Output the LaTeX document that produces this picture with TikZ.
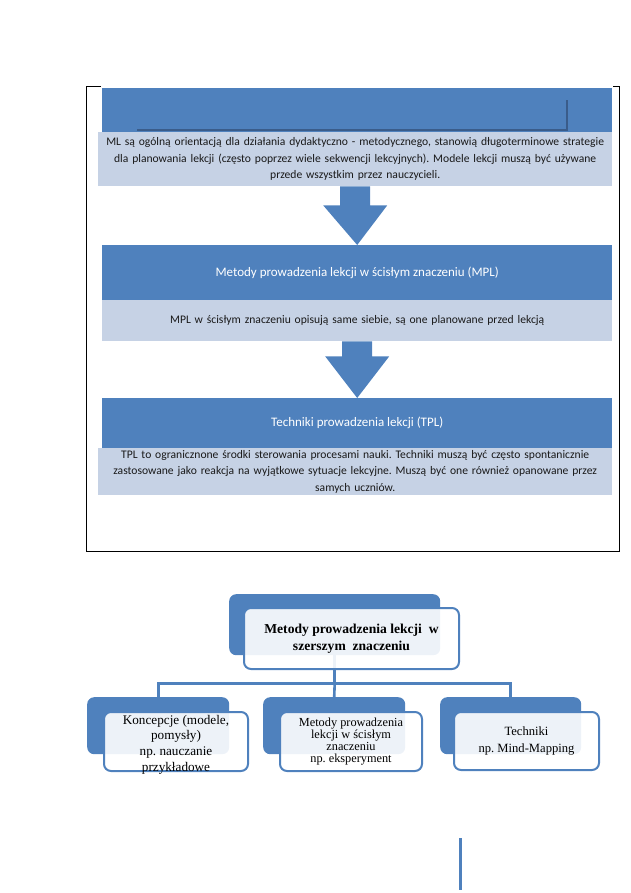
\documentclass[tikz,border=0pt]{standalone}
\usepackage{fontspec}
\setmainfont{Liberation Serif}
\newfontfamily\calib{Carlito}
\usetikzlibrary{calc}
\definecolor{mblue}{RGB}{79,129,189}
\definecolor{mlight}{RGB}{198,210,229}
\definecolor{mdark}{RGB}{58,92,138}
\definecolor{mtext}{RGB}{25,25,25}
\frenchspacing
\begin{document}
\begin{tikzpicture}[x=1pt,y=-1pt,
  headbox/.style={fill=mblue, draw=none, anchor=north west, inner sep=0pt,
    text=white, font=\calib\fontsize{13}{15}\selectfont},
  descbox/.style={fill=mlight, draw=none, anchor=north west, inner sep=0pt,
    text=mtext, align=center, font=\calib\fontsize{11.6}{16.5}\selectfont},
  arrowfill/.style={fill=mblue, draw=none},
  backbox/.style={fill=mblue, draw=none, rounded corners=7pt, anchor=north west, inner sep=0pt},
  frontbox/.style={fill=white, fill opacity=0.9, text opacity=1, draw=mblue, line width=2pt,
    rounded corners=7pt, anchor=north west, inner sep=0pt, align=center, text=black},
  conn/.style={draw=mblue, line width=2.6pt},
]
\useasboundingbox (0,0) rectangle (630,893);

% outer frame
\draw[black, line width=0.9pt] (101,86) -- (86,86) -- (86,551) -- (619,551) -- (619,86) -- (613,86);

% ML block
\node[headbox, minimum width=510pt, minimum height=96pt] (mlhead) at (102,88) {};
\draw[mdark, line width=2pt] (137,130) -- (567,130) -- (567,100);
\node[descbox, minimum width=514pt, minimum height=54pt, text width=510pt] (mldesc) at (98,132)
  {ML są ogólną orientacją dla działania dydaktyczno - metodycznego, stanowią długoterminowe strategie\\
   dla planowania lekcji (często poprzez wiele sekwencji lekcyjnych). Modele lekcji muszą być używane\\
   przede wszystkim przez nauczycieli.};

% MPL block
\node[headbox, minimum width=510pt, minimum height=55pt] (mplhead) at (102,245)
  {Metody prowadzenia lekcji w ścisłym znaczeniu (MPL)};
\node[descbox, minimum width=510pt, minimum height=41pt, text width=506pt] (mpldesc) at (102,300)
  {MPL w ścisłym znaczeniu opisują same siebie, są one planowane przed lekcją};

% TPL block
\node[headbox, minimum width=510pt, minimum height=50pt] (tplhead) at (102,398)
  {Techniki prowadzenia lekcji (TPL)};
\node[descbox, minimum width=514pt, minimum height=47pt, text width=510pt] (tpldesc) at (98,448)
  {TPL to ogranicznone środki sterowania procesami nauki. Techniki muszą być często spontanicznie\\
   zastosowane jako reakcja na wyjątkowe sytuacje lekcyjne. Muszą być one również opanowane przez\\
   samych uczniów.};

% block arrows
\fill[arrowfill] ($(mldesc.south)+(-15,0)$) -- ($(mldesc.south)+(15,0)$) -- ($(mldesc.south)+(15,19)$)
  -- ($(mldesc.south)+(32,19)$) -- (mplhead.north) -- ($(mldesc.south)+(-32,19)$)
  -- ($(mldesc.south)+(-15,19)$) -- cycle;
\fill[arrowfill] ($(mpldesc.south)+(-15,0)$) -- ($(mpldesc.south)+(15,0)$) -- ($(mpldesc.south)+(15,15)$)
  -- ($(mpldesc.south)+(32,15)$) -- (tplhead.north) -- ($(mpldesc.south)+(-32,15)$)
  -- ($(mpldesc.south)+(-15,15)$) -- cycle;

% lower hierarchy
\node[backbox, minimum width=211pt, minimum height=61pt] (rootb) at (229,594) {};
\node[backbox, minimum width=142pt, minimum height=57pt] (c1b) at (87,697) {};
\node[backbox, minimum width=142pt, minimum height=57pt] (c2b) at (263,697) {};
\node[backbox, minimum width=141pt, minimum height=57pt] (c3b) at (440,697) {};

\draw[conn] (rootb.south) -- ++(0,28) coordinate (j);
\draw[conn] (c1b.north) |- (j) -| (c3b.north);
\draw[conn] (j) -- (c2b.north);

\node[frontbox, minimum width=215pt, minimum height=61pt, font=\bfseries\fontsize{13.6}{17}\selectfont] (root) at (243,607)
  {Metody prowadzenia lekcji~ w\\ szerszym~ znaczeniu};
\node[frontbox, minimum width=144pt, minimum height=59pt] (c1) at (103,711) {};
\node[align=center, font=\fontsize{13.2}{15.6}\selectfont, inner sep=0pt] (c1t) at ($(c1.center)+(0,3)$)
  {Koncepcje (modele,\\ pomysły)\\ np. nauczanie\\ przykładowe};
\node[frontbox, minimum width=142pt, minimum height=59pt, font=\fontsize{12.3}{12}\selectfont] (c2) at (279,711)
  {Metody prowadzenia\\ lekcji w ścisłym\\ znaczeniu\\ np. eksperyment};
\node[frontbox, minimum width=145pt, minimum height=58pt, font=\fontsize{12.6}{17}\selectfont] (c3) at (453,711)
  {Techniki\\ np.\ Mind-Mapping};

% stray vertical line at the bottom
\fill[mblue] (458.5,838) rectangle (461.5,890);
\end{tikzpicture}
\end{document}
